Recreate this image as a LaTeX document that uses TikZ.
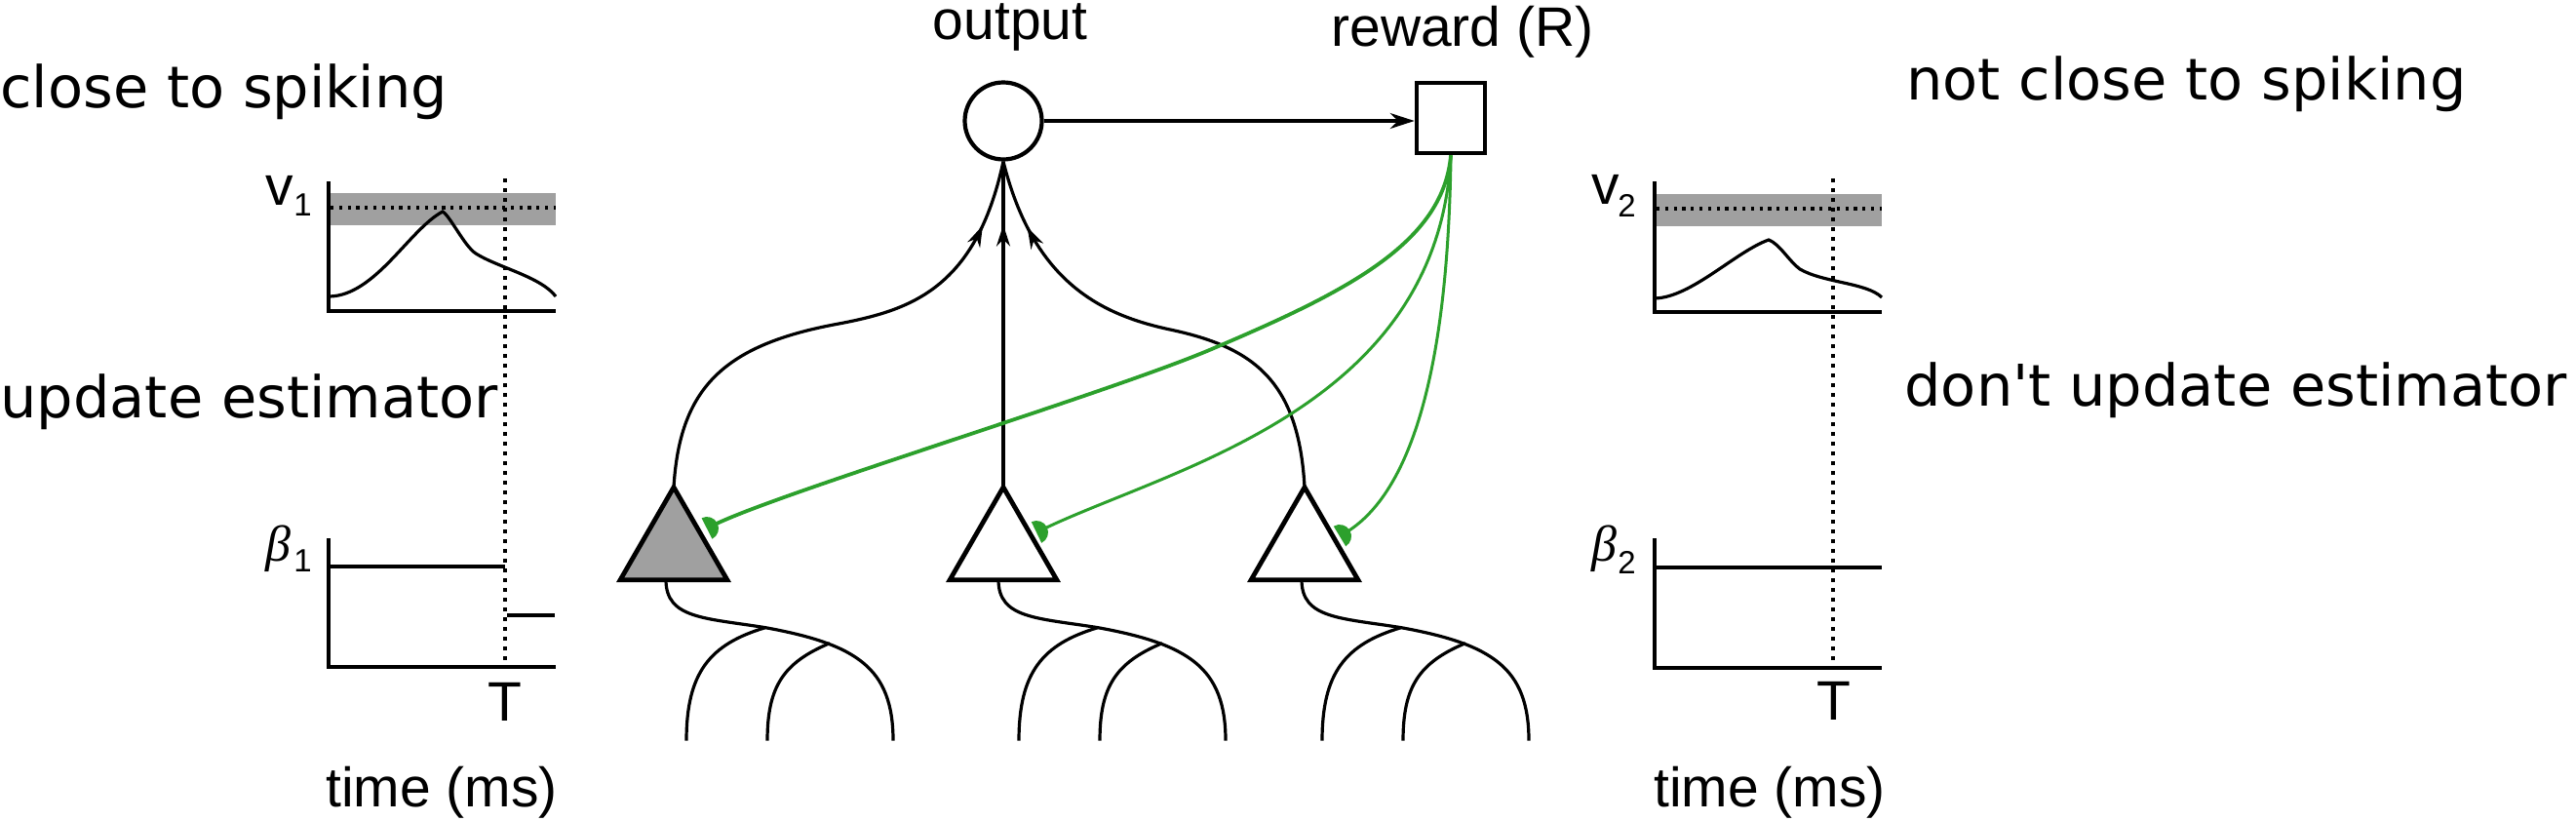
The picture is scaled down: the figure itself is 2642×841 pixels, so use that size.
\documentclass[tikz,border=0pt]{standalone}
\usepackage{fontspec}
\setmainfont{DejaVu Sans}
\newfontfamily\bigf{DejaVu Sans}[Ligatures=TeXOff]
\newfontfamily\arialf{Liberation Sans}
\newfontfamily\serff{Liberation Serif}
\usetikzlibrary{arrows.meta,shapes.geometric,calc,decorations.markings}
\definecolor{bandgray}{RGB}{160,160,160}
\definecolor{syn}{RGB}{44,160,44}

\pgfdeclarearrow{
  name = SynCup,
  parameters = {\the\pgfarrowlength},
  setup code = {
    \pgfarrowssettipend{0pt}
    \pgfarrowssetlineend{-0.6\pgfarrowlength}
    \pgfarrowssetbackend{-\pgfarrowlength}
    \pgfarrowssetvisualbackend{-\pgfarrowlength}
    \pgfarrowssavethe\pgfarrowlength
  },
  drawing code = {
    \pgfpathmoveto{\pgfqpoint{0pt}{\pgfarrowlength}}
    \pgfpatharc{90}{270}{\pgfarrowlength}
    \pgfpathclose
    \pgfusepathqfill
  },
  defaults = {length = 5pt}
}

\begin{document}
\begin{tikzpicture}[x=0.5pt,y=-0.5pt,
  bigtxt/.style={font=\bigf\fontsize{29.5pt}{34pt}\selectfont, inner sep=0pt, anchor=base west},
  lab/.style={font=\arialf\fontsize{28.5pt}{32pt}\selectfont, inner sep=0pt},
  sublab/.style={font=\arialf\fontsize{16.5pt}{19pt}\selectfont, inner sep=0pt, anchor=base west},
  betalab/.style={font=\serff\itshape\fontsize{26pt}{30pt}\selectfont, inner sep=0pt, anchor=base west},
  axis/.style={line width=1.7pt, line join=miter},
  trace/.style={line width=1.6pt},
  vdot/.style={line width=1.8pt, dash pattern=on 2pt off 3pt},
  hdot/.style={line width=1.8pt, dash pattern=on 1.6pt off 2.8pt},
  conn/.style={line width=1.6pt},
  midarrow/.style={postaction={decorate}, decoration={markings, mark=at position #1 with {\arrow{Stealth[length=11pt,width=7pt]}}}},
  neuron/.style={regular polygon, regular polygon sides=3, minimum size=63.3pt, inner sep=0pt, outer sep=0pt, draw, line width=2.4pt},
  syncon/.style={draw=syn, line width=1.5pt, -{SynCup[length=6pt]}},
  dend/.style={line width=1.6pt},
]
\useasboundingbox (0,0) rectangle (2642,841);

% side texts
\node[bigtxt] (cts) at (0,110) {close to spiking};
\node[bigtxt] (ue) at (0,428) {update estimator};
\node[bigtxt] (ncts) at (1955,102) {not close to spiking};
\node[bigtxt] (due) at (1953,416) {don't update estimator};

% ---------- left plots ----------
\fill[bandgray] (337,198) rectangle (570,231);
\draw[hdot] (339,213) -- (570,213);
\draw[vdot] (518,183) -- (518,684);
\draw[axis] (337,186) -- (337,319) -- (570,319);
\draw[trace] (338,304) .. controls (385,303) and (420,235) .. (454,217)
  .. controls (462,222) and (476,252) .. (488,260)
  .. controls (510,274) and (555,284) .. (570,304);
\draw[axis] (337,552) -- (337,684) -- (570,684);
\draw[trace] (337,581) -- (518,581);
\draw[trace] (520,631) -- (569,631);
\node[lab, anchor=base west] (v1) at (272,210) {v};
\node[sublab] (v1s) at (301,221) {1};
\node[betalab] (b1) at (272,575) {β};
\node[sublab] (b1s) at (301,586) {1};
\node[lab, anchor=base] (T1) at (518,739) {T};
\node[lab, anchor=base] (tm1) at (453,827) {time (ms)};

% ---------- right plots ----------
\fill[bandgray] (1697,199) rectangle (1930,232);
\draw[hdot] (1699,214) -- (1930,214);
\draw[vdot] (1880,183) -- (1880,685);
\draw[axis] (1697,186) -- (1697,320) -- (1930,320);
\draw[trace] (1697,306) .. controls (1735,305) and (1780,258) .. (1814,246)
  .. controls (1825,250) and (1835,268) .. (1846,276)
  .. controls (1870,290) and (1915,290) .. (1930,305);
\draw[axis] (1697,552) -- (1697,685) -- (1930,685);
\draw[line width=2pt] (1697,582) -- (1930,582);
\node[lab, anchor=base west] (v2) at (1632,209) {v};
\node[sublab] (v2s) at (1659,222) {2};
\node[betalab] (b2) at (1632,575) {β};
\node[sublab] (b2s) at (1659,588) {2};
\node[lab, anchor=base] (T2) at (1881,738) {T};
\node[lab, anchor=base] (tm2) at (1815,827) {time (ms)};

% ---------- network ----------
\node[lab, anchor=base] (outlab) at (1036,40) {output};
\node[lab, anchor=base] (rewlab) at (1500,47) {reward (R)};
\node[circle, draw, line width=2.1pt, minimum size=39.5pt, inner sep=0pt] (out) at (1029,124) {};
\node[rectangle, draw, line width=2.3pt, minimum width=35pt, minimum height=36pt, inner sep=0pt] (rew) at (1488,121) {};
\draw[conn, -{Stealth[length=12.5pt,width=8pt]}] (out.east) -- (out.east -| rew.west);

\node[neuron, fill=bandgray] (t1) at (691,563) {};
\node[neuron, fill=white] (t2) at (1029,563) {};
\node[neuron, fill=white] (t3) at (1338,563) {};

\draw[conn, midarrow=-34.5pt] (t1.corner 1) .. controls (697,400) and (740,355) .. (855,333)
  .. controls (930,319) and (1000,300) .. (out.south);
\draw[conn, midarrow=-32.5pt] (t2.corner 1) -- (out.south);
\draw[conn, midarrow=-36pt] (t3.corner 1) .. controls (1332,390) and (1285,356) .. (1200,338)
  .. controls (1130,323) and (1060,290) .. (out.south);

\coordinate (g1) at (725,542);
\coordinate (g2) at (1063,546);
\coordinate (g3) at (1374,550);
\draw[syncon, line width=1.9pt] (rew.south) .. controls (1480,250) and (1380,300) .. (1238,360)
  .. controls (1130,405) and (794,507) .. (g1);
\draw[syncon] (rew.south) .. controls (1475,420) and (1200,480) .. (g2);
\draw[syncon] (rew.south) .. controls (1485,400) and (1440,510) .. (g3);

\foreach \n/\dx in {1/-8,2/-5,3/-3}{
  \coordinate (d\n) at ($(t\n.south)+(\dx,0)$);
  \coordinate (p\n) at ($(d\n)+(102,49)$);
  \coordinate (q\n) at ($(d\n)+(168,65)$);
  \draw[dend] (d\n) .. controls ($(d\n)+(0,40)$) and ($(d\n)+(40,39)$) .. (p\n)
     .. controls ($(d\n)+(195,66)$) and ($(d\n)+(233,90)$) .. ($(d\n)+(233,165)$);
  \draw[dend] (p\n) .. controls ($(d\n)+(45,66)$) and ($(d\n)+(21,95)$) .. ($(d\n)+(21,165)$);
  \draw[dend] (q\n) .. controls ($(d\n)+(120,85)$) and ($(d\n)+(104,110)$) .. ($(d\n)+(104,165)$);
}
\end{tikzpicture}
\end{document}
